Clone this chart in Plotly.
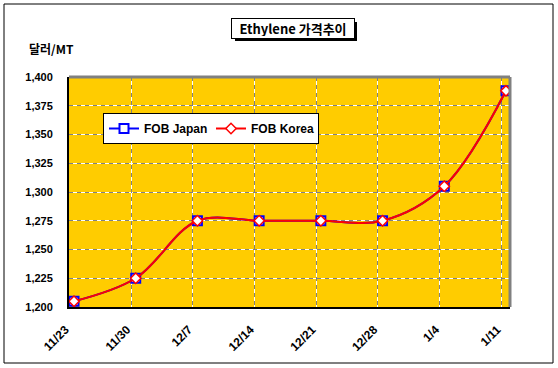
import plotly.graph_objects as go

dates = ["11/23", "11/30", "12/7", "12/14", "12/21", "12/28", "1/4", "1/11"]
fob_japan = [1205, 1225, 1275, 1275, 1275, 1275, 1305, 1388]
fob_korea = [1205, 1225, 1275, 1275, 1275, 1275, 1305, 1388]
y_ticks = [1200, 1225, 1250, 1275, 1300, 1325, 1350, 1375, 1400]

W, H = 558, 368
L, R, T, B = 69, 48, 77, 61
pw, ph = W - L - R, H - T - B

def px(x):
    return (x - L) / pw

def py(y):
    return (H - B - y) / ph

idx = list(range(len(dates)))
grid_off = 0.075
tickpos = [i - grid_off for i in idx]

fig = go.Figure()
fig.add_trace(go.Scatter(
    x=idx, y=fob_japan, name="FOB Japan", mode="lines+markers",
    line=dict(color="blue", width=2, shape="spline", smoothing=1),
    marker=dict(symbol="square", size=9, color="white", line=dict(color="blue", width=2)),
))
fig.add_trace(go.Scatter(
    x=idx, y=fob_korea, name="FOB Korea", mode="lines+markers",
    line=dict(color="red", width=2, shape="spline", smoothing=1),
    marker=dict(symbol="diamond", size=8, color="white", line=dict(color="red", width=1.5)),
))
# overlay axes for two-tone dashed gridlines
fig.add_trace(go.Scatter(x=[idx[0]], y=[y_ticks[0]], xaxis="x2", yaxis="y2",
                         mode="markers", marker=dict(opacity=0), showlegend=False, hoverinfo="skip"))

xr = [-0.081, len(dates) - 1 + 0.065]
yr = [y_ticks[0], y_ticks[-1]]
tickfont = dict(family="Liberation Sans, Arial", size=11, color="black", weight="bold")

fig.update_layout(
    width=W, height=H,
    margin=dict(l=L, r=R, t=T, b=B, autoexpand=False),
    paper_bgcolor="white",
    plot_bgcolor="#FFCC00",
    showlegend=True,
    legend=dict(
        orientation="h", x=px(103), y=py(113), xanchor="left", yanchor="top",
        bgcolor="white", bordercolor="black", borderwidth=1,
        font=dict(family="Liberation Sans, Arial", size=12, color="black", weight="bold"),
        entrywidth=62, tracegroupgap=0,
    ),
    xaxis=dict(
        range=xr, tickvals=tickpos, ticktext=dates, tickangle=-45,
        showgrid=True, gridcolor="white", gridwidth=1,
        showline=True, linecolor="black", linewidth=2,
        ticks="", ticklabelstandoff=9, ticklabelshift=-4,
        tickfont=dict(family="Liberation Sans, Arial", size=12, color="black", weight="bold"),
        zeroline=False,
    ),
    yaxis=dict(
        range=yr, tickvals=y_ticks, tickformat=",d",
        showgrid=True, gridcolor="white", gridwidth=1,
        showline=True, linecolor="black", linewidth=2,
        ticks="", ticklabelstandoff=12, tickfont=tickfont, zeroline=False,
    ),
    xaxis2=dict(
        range=xr, tickvals=tickpos, overlaying="x", showticklabels=False,
        showgrid=True, gridcolor="#808080", griddash="4px,4px", gridwidth=1,
        zeroline=False, showline=False, ticks="",
    ),
    yaxis2=dict(
        range=yr, tickvals=y_ticks, overlaying="y", showticklabels=False,
        showgrid=True, gridcolor="#808080", griddash="4px,4px", gridwidth=1,
        zeroline=False, showline=False, ticks="",
    ),
    shapes=[
        dict(type="rect", xref="paper", yref="paper", x0=px(4), x1=px(553), y0=py(363), y1=py(4),
             line=dict(color="black", width=1), fillcolor="rgba(0,0,0,0)", layer="below"),
        dict(type="line", xref="paper", yref="paper", x0=0, x1=1, y0=1, y1=1,
             line=dict(color="#808080", width=3)),
        dict(type="line", xref="paper", yref="paper", x0=1, x1=1, y0=0, y1=1,
             line=dict(color="#808080", width=3)),
        dict(type="rect", xref="paper", yref="paper", x0=px(235), x1=px(357), y0=py(41), y1=py(22),
             line=dict(width=0), fillcolor="black", layer="below"),
    ],
    annotations=[
        dict(text="Ethylene 가격추이", xref="paper", yref="paper", x=px(293), y=py(28.5),
             xanchor="center", yanchor="middle", showarrow=False,
             font=dict(family="Noto Sans CJK KR", size=13, color="black", weight="bold"),
             bgcolor="white", bordercolor="black", borderwidth=1, borderpad=2,
             width=118, height=15),
        dict(text="달러/MT", xref="paper", yref="paper", x=px(27), y=py(48),
             xanchor="left", yanchor="middle", showarrow=False,
             font=dict(family="Noto Sans CJK KR", size=12, color="black", weight="bold")),
    ],
)

fig.write_html("out.html", config={"displayModeBar": False},
               post_script="document.body.style.margin='0';document.body.style.overflow='hidden';")
